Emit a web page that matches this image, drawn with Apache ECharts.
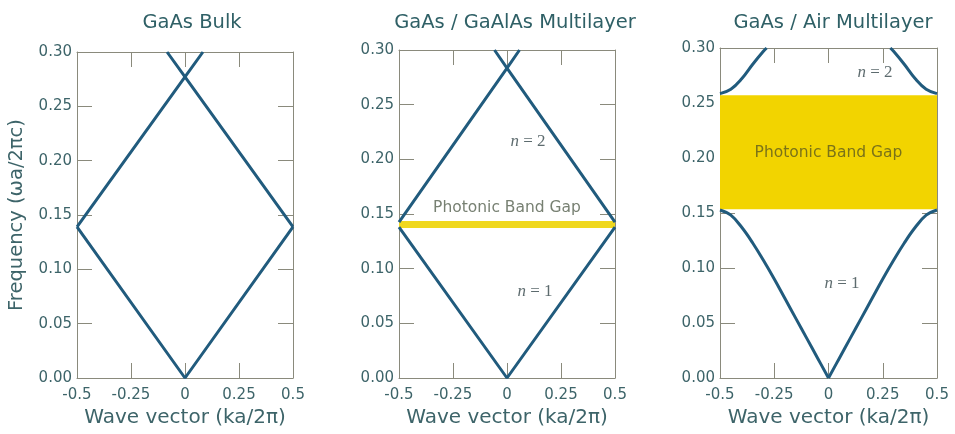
<!DOCTYPE html>
<html><head><meta charset="utf-8">
<script src="https://cdn.jsdelivr.net/npm/echarts@6/dist/echarts.min.js"></script>
<style>html,body{margin:0;padding:0;background:#fff}#c{width:955px;height:434px}</style>
</head><body><div id="c"></div>
<script>
// ---- data ----
const panelTitles = ['GaAs Bulk', 'GaAs / GaAlAs Multilayer', 'GaAs / Air Multilayer'];
const xName = 'Wave vector (ka/2\u03c0)';
const yName = 'Frequency (\u03c9a/2\u03c0c)';
// Panel 1: bulk GaAs (folded light line)
const bulkLower = [[-0.5, 0.139], [0, 0], [0.5, 0.139]];
const bulkUpperA = [[-0.5, 0.139], [0, 0.277], [0.083, 0.30]];
const bulkUpperB = [[0.5, 0.139], [0, 0.277], [-0.083, 0.30]];
// Panel 2: GaAs / GaAlAs
const mlLower = [[-0.5, 0.138], [0, 0], [0.5, 0.138]];
const mlUpperA = [[-0.5, 0.1425], [0, 0.2835], [0.058, 0.30]];
const mlUpperB = [[0.5, 0.1425], [0, 0.2835], [-0.058, 0.30]];
const mlGap = [0.1372, 0.1436];
// Panel 3: GaAs / Air (right half; mirrored for left half)
const airK1 = [0, 0.05, 0.1, 0.15, 0.2, 0.25, 0.3, 0.35, 0.4, 0.45, 0.5];
const airW1 = [0, 0.018, 0.036, 0.054, 0.072, 0.090, 0.107, 0.123, 0.137, 0.148, 0.1527];
const airK2 = [0.5, 0.45, 0.4, 0.35, 0.3, 0.285];
const airW2 = [0.2585, 0.2625, 0.272, 0.285, 0.297, 0.30];
const airGap = [0.1535, 0.257];

// ---- styling ----
const lineColor = '#215b7d';
const textColor = '#3d6469';
const frameColor = '#8a8a7c';
const font = 'DejaVu Sans';
const grids = [
  {left: 77, top: 52, width: 216, height: 326},
  {left: 399, top: 50, width: 216, height: 328},
  {left: 720, top: 48, width: 217, height: 330}
];
const titleX = [187, 510, 828];

function zip(a, b) { return a.map((v, i) => [v, b[i]]); }
const air1R = zip(airK1, airW1);
const air1L = zip(airK1.map(k => -k), airW1);
const air2R = zip(airK2, airW2);
const air2L = zip(airK2.map(k => -k), airW2);

const xAxes = [], yAxes = [];
grids.forEach((g, i) => {
  xAxes.push({
    type: 'value', gridIndex: i, min: -0.5, max: 0.5, interval: 0.25, position: 'bottom',
    axisLine: {onZero: false, lineStyle: {color: frameColor, width: 1}},
    axisTick: {inside: true, length: 15, lineStyle: {color: frameColor}},
    splitLine: {show: false},
    axisLabel: {color: textColor, fontFamily: font, fontSize: 15, margin: 10},
    name: xName, nameLocation: 'middle', nameGap: 26,
    nameTextStyle: {color: textColor, fontFamily: font, fontSize: 20}
  });
  xAxes.push({
    type: 'value', gridIndex: i, min: -0.5, max: 0.5, interval: 0.25, position: 'top',
    axisLine: {onZero: false, lineStyle: {color: frameColor, width: 1}},
    axisTick: {inside: true, length: 15, lineStyle: {color: frameColor}},
    splitLine: {show: false}, axisLabel: {show: false}
  });
  yAxes.push({
    type: 'value', gridIndex: i, min: 0, max: 0.3, interval: 0.05, position: 'left',
    axisLine: {show: true, onZero: false, lineStyle: {color: frameColor, width: 1}},
    axisTick: {show: true, inside: true, length: 15, lineStyle: {color: frameColor}},
    splitLine: {show: false},
    axisLabel: {color: textColor, fontFamily: font, fontSize: 15, margin: 5, formatter: v => v.toFixed(2)},
    name: i === 0 ? yName : '', nameLocation: 'middle', nameGap: 50,
    nameTextStyle: {color: textColor, fontFamily: font, fontSize: 19.5}
  });
  yAxes.push({
    type: 'value', gridIndex: i, min: 0, max: 0.3, interval: 0.05, position: 'right',
    axisLine: {show: true, onZero: false, lineStyle: {color: frameColor, width: 1}},
    axisTick: {show: true, inside: true, length: 15, lineStyle: {color: frameColor}},
    splitLine: {show: false}, axisLabel: {show: false}
  });
});

function line(grid, data, smooth) {
  return {
    type: 'line', xAxisIndex: grid * 2, yAxisIndex: grid * 2, data: data,
    showSymbol: false, symbol: 'none', clip: true, smooth: smooth || false,
    lineStyle: {color: lineColor, width: 3}, z: 3, silent: true
  };
}
function gapArea(grid, lo, hi, color) {
  return {
    type: 'line', xAxisIndex: grid * 2, yAxisIndex: grid * 2, data: [], silent: true,
    markArea: {silent: true, itemStyle: {color: color, opacity: 1},
      data: [[{coord: [-0.5, lo]}, {coord: [0.5, hi]}]]}, z: 1
  };
}
function note(grid, x, y, text, style) {
  return {
    type: 'scatter', xAxisIndex: grid * 2, yAxisIndex: grid * 2, symbolSize: 0, silent: true,
    data: [[x, y]], z: 5,
    label: Object.assign({show: true, position: 'inside', formatter: text}, style)
  };
}
const gapStyle = {fontFamily: font, fontSize: 15.5, color: '#55604f'};
const nStyle = {
  fontFamily: 'Liberation Serif', fontSize: 17, color: '#34464a',
  rich: {i: {fontFamily: 'Liberation Serif', fontStyle: 'italic', fontSize: 17, color: '#34464a'}}
};

const series = [
  line(0, bulkLower), line(0, bulkUpperA), line(0, bulkUpperB),
  gapArea(1, mlGap[0], mlGap[1], '#f0d81e'),
  line(1, mlLower), line(1, mlUpperA), line(1, mlUpperB),
  note(1, 0.0, 0.1555, 'Photonic Band Gap', gapStyle),
  note(1, 0.097, 0.216, '{i|n} = 2', nStyle),
  note(1, 0.13, 0.0787, '{i|n} = 1', nStyle),
  gapArea(2, airGap[0], airGap[1], '#f2d400'),
  line(2, air1L, 0.4), line(2, air1R, 0.4), line(2, air2L, 0.4), line(2, air2R, 0.4),
  note(2, 0.0, 0.2045, 'Photonic Band Gap', Object.assign({}, gapStyle, {color: '#5c5a1e'})),
  note(2, 0.214, 0.278, '{i|n} = 2', nStyle),
  note(2, 0.062, 0.086, '{i|n} = 1', nStyle)
];

const chart = echarts.init(document.getElementById('c'), null, {renderer: 'canvas'});
chart.setOption({
  animation: false,
  backgroundColor: '#ffffff',
  title: panelTitles.map((t, i) => ({
    text: t, left: titleX[i], top: 8, textAlign: 'center',
    textStyle: {fontFamily: font, fontSize: 19.5, fontWeight: 'normal', color: '#2f6066'}
  })),
  grid: grids,
  xAxis: xAxes,
  yAxis: yAxes,
  series: series
});
</script>
</body></html>
